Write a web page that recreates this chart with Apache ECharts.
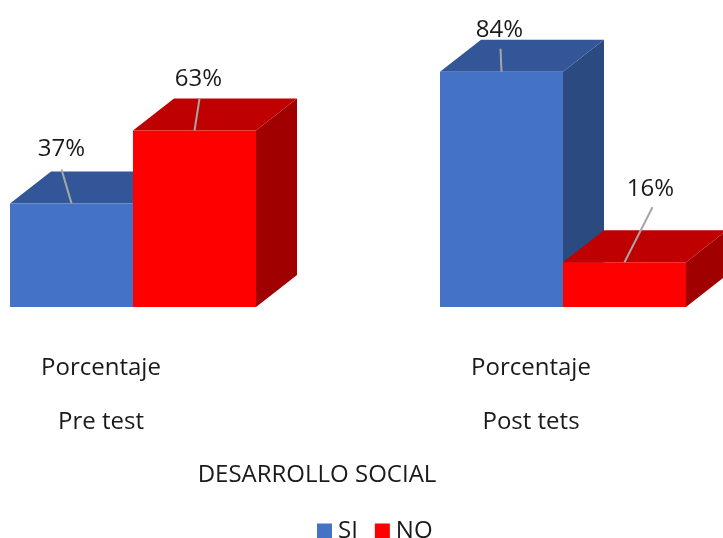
<!DOCTYPE html>
<html>
<head>
<meta charset="utf-8">
<style>
  html, body { margin: 0; padding: 0; background: #fff; overflow: hidden; }
  #main { width: 723px; height: 538px; }
</style>
<script src="https://cdn.jsdelivr.net/npm/echarts@6/dist/echarts.min.js"></script>
</head>
<body>
<div id="main"></div>
<script>
// datos
const categories = ['Pre test', 'Post tets'];
const groupName = 'Porcentaje';
const axisTitle = 'DESARROLLO SOCIAL';
const siValues = [37, 84];
const noValues = [63, 16];

const fontName = '"Open Sans", sans-serif';
const fontSize = 24;
const textColor = '#1a1a1a';
const barWidth = 123;
const depthX = 41;
const depthY = 32;

// desplazamiento de etiqueta y linea guia respecto al centro superior de la barra
const siOffsets = [{ lx: -10, ly: -54, ex: -10, ey: -34 }, { lx: -2, ly: -42, ex: -1, ey: -23 }];
const noOffsets = [{ lx: 4, ly: -51, ex: 5, ey: -32 }, { lx: 26, ly: -73, ex: 28, ey: -55 }];

function bar3d(front, top, side, dir, offsets) {
    return function (params, api) {
        let i = params.dataIndex;
        let p = api.coord([api.value(0), api.value(1)]);
        let base = api.coord([api.value(0), 0]);
        let x0 = dir < 0 ? p[0] - barWidth : p[0];
        let x1 = x0 + barWidth;
        let cx = (x0 + x1) / 2;
        let o = offsets[i];
        return {
            type: 'group',
            children: [
                {
                    type: 'polygon',
                    shape: { points: [[x1, p[1]], [x1 + depthX, p[1] - depthY], [x1 + depthX, base[1] - depthY], [x1, base[1]]] },
                    style: { fill: side }
                },
                {
                    type: 'polygon',
                    shape: { points: [[x0, p[1]], [x0 + depthX, p[1] - depthY], [x1 + depthX, p[1] - depthY], [x1, p[1]]] },
                    style: { fill: top }
                },
                {
                    type: 'rect',
                    shape: { x: x0, y: p[1], width: barWidth, height: base[1] - p[1] },
                    style: { fill: front }
                },
                {
                    type: 'line',
                    shape: { x1: cx, y1: p[1], x2: cx + o.ex, y2: p[1] + o.ey },
                    style: { stroke: '#a6a6a6', lineWidth: 2 }
                },
                {
                    type: 'text',
                    x: cx + o.lx,
                    y: p[1] + o.ly,
                    style: {
                        text: api.value(1) + '%',
                        fill: textColor,
                        font: fontSize + 'px ' + fontName,
                        align: 'center',
                        verticalAlign: 'middle'
                    }
                }
            ]
        };
    };
}

let chart = echarts.init(document.getElementById('main'), null, { renderer: 'canvas' });

chart.setOption({
    animation: false,
    backgroundColor: '#fff',
    title: {
        text: axisTitle,
        left: 317,
        top: 460,
        padding: 0,
        textAlign: 'center',
        textStyle: { fontFamily: fontName, fontSize: fontSize, fontWeight: 'normal', color: textColor, lineHeight: 30 }
    },
    legend: {
        left: 317,
        top: 519,
        padding: 0,
        itemWidth: 15,
        itemHeight: 15,
        itemGap: 17,
        icon: 'rect',
        textStyle: { fontFamily: fontName, fontSize: fontSize, color: textColor, padding: [0, 0, 0, 1] },
        data: ['SI', 'NO']
    },
    grid: [
        { left: -82, top: 27, width: 860, height: 280, outerBoundsMode: 'none' },
        // solo para los rotulos, corridos hacia la izquierda como en el 3D
        { left: -114, top: 27, width: 860, height: 280, outerBoundsMode: 'none' }
    ],
    xAxis: [
        {
            type: 'category',
            gridIndex: 0,
            data: categories,
            axisLine: { show: false },
            axisTick: { show: false },
            axisLabel: { show: false }
        },
        {
            type: 'category',
            gridIndex: 1,
            data: categories,
            axisLine: { show: false },
            axisTick: { show: false },
            axisLabel: {
                margin: 48,
                fontFamily: fontName,
                fontSize: fontSize,
                lineHeight: 27,
                color: textColor,
                formatter: value => groupName + '\n\n' + value
            }
        }
    ],
    yAxis: [
        { type: 'value', gridIndex: 0, min: 0, max: 100, show: false },
        { type: 'value', gridIndex: 1, min: 0, max: 100, show: false }
    ],
    series: [
        {
            name: 'SI',
            type: 'custom',
            xAxisIndex: 0,
            yAxisIndex: 0,
            itemStyle: { color: '#4472c4' },
            renderItem: bar3d('#4472c4', '#325697', '#2b4a80', -1, siOffsets),
            encode: { x: 0, y: 1 },
            data: categories.map((c, i) => [i, siValues[i]])
        },
        {
            name: 'NO',
            type: 'custom',
            xAxisIndex: 0,
            yAxisIndex: 0,
            itemStyle: { color: '#ff0000' },
            renderItem: bar3d('#ff0000', '#bf0000', '#a00000', 1, noOffsets),
            encode: { x: 0, y: 1 },
            data: categories.map((c, i) => [i, noValues[i]])
        }
    ]
});
</script>
</body>
</html>
